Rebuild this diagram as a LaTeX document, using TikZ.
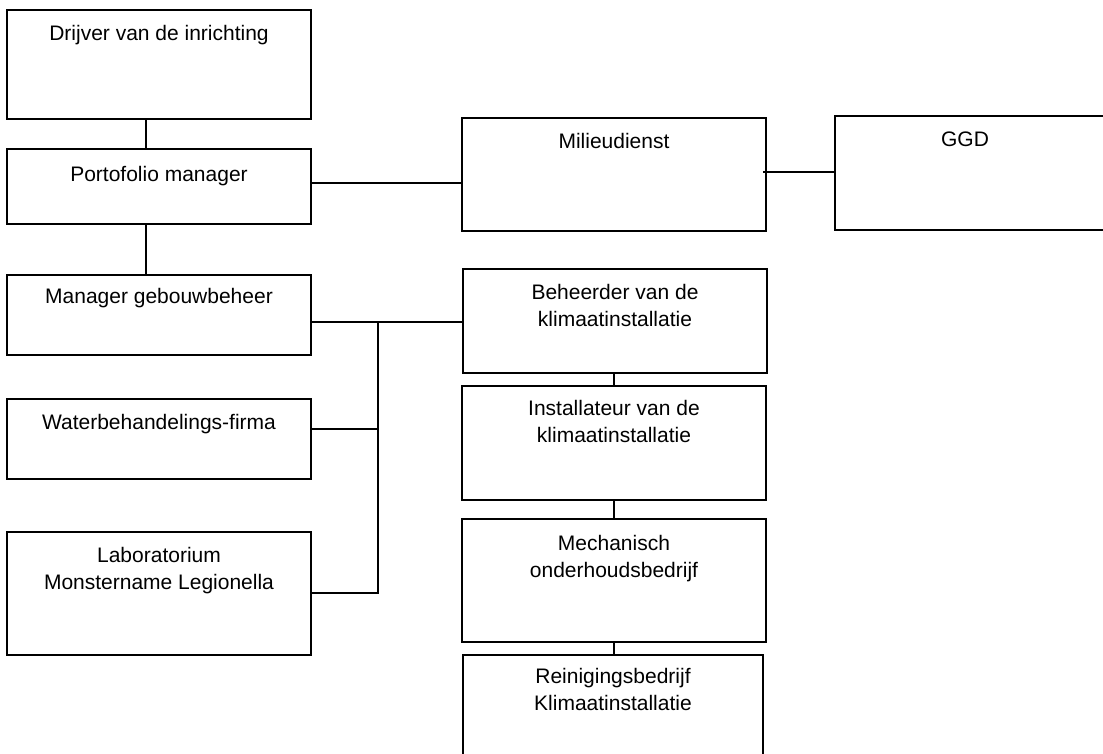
\documentclass[tikz,border=0pt]{standalone}
\usepackage{fontspec}
\setmainfont{Liberation Sans}
\begin{document}
\begin{tikzpicture}[x=1pt,y=-1pt,
  box/.style={draw=black,line width=1.6pt,rectangle,inner sep=0pt,outer sep=0pt,anchor=north west},
  txt/.style={anchor=north,inner sep=0pt,outer sep=0pt,align=center,font=\fontsize{21}{27.5}\selectfont},
  conn/.style={draw=black,line width=1.6pt}]
\useasboundingbox (0,0) rectangle (1103,753);
% boxes
\node[box,minimum width=304pt,minimum height=109pt] (drijver) at (7,10) {};
\node[box,minimum width=304pt,minimum height=75pt] (port) at (7,149) {};
\node[box,minimum width=304pt,minimum height=80pt] (mgr) at (7,275) {};
\node[box,minimum width=304pt,minimum height=80pt] (water) at (7,399) {};
\node[box,minimum width=304pt,minimum height=123pt] (lab) at (7,532) {};
\node[box,minimum width=304pt,minimum height=113pt] (milieu) at (462,118) {};
\node[box,minimum width=275pt,minimum height=114pt] (ggd) at (835,116) {};
\node[box,minimum width=304pt,minimum height=104pt] (beh) at (463,269) {};
\node[box,minimum width=304pt,minimum height=114pt] (inst) at (462,386) {};
\node[box,minimum width=304pt,minimum height=123pt] (mech) at (462,519) {};
\node[box,minimum width=300pt,minimum height=120pt] (rein) at (463,655) {};
% texts
\node[txt] (drijver-t) at (159,25) {Drijver van de inrichting};
\node[txt] (port-t) at (159,166) {Portofolio manager};
\node[txt] (mgr-t) at (159,288) {Manager gebouwbeheer};
\node[txt] (water-t) at (159,414) {Waterbehandelings-firma};
\node[txt] (lab-t) at (159,547) {Laboratorium\\Monstername Legionella};
\node[txt] (milieu-t) at (614,133) {Milieudienst};
\node[txt] (ggd-t) at (965,132) {GGD};
\node[txt] (beh-t) at (615,284) {Beheerder van de\\klimaatinstallatie};
\node[txt] (inst-t) at (614,400) {Installateur van de\\klimaatinstallatie};
\node[txt] (mech-t) at (614,535) {Mechanisch\\onderhoudsbedrijf};
\node[txt] (rein-t) at (613,668) {Reinigingsbedrijf\\Klimaatinstallatie};
% helper coordinates
\coordinate (cx) at (146,0);
\coordinate (rx) at (614,0);
\coordinate (jx) at (378,0);
\coordinate (y183) at (0,183);
\coordinate (y172) at (763,172);
\coordinate (y322) at (0,322);
\coordinate (y429) at (0,429);
\coordinate (y593) at (0,593);
% connectors
\draw[conn] (drijver.south -| cx) -- (port.north -| cx);
\draw[conn] (port.south -| cx) -- (mgr.north -| cx);
\draw[conn] (port.east |- y183) -- (milieu.west |- y183);
\draw[conn] (y172) -- (ggd.west |- y172);
\draw[conn] (mgr.east |- y322) -- (beh.west |- y322);
\draw[conn] (water.east |- y429) -- (jx |- y429);
\draw[conn] (lab.east |- y593) -- (jx |- y593) -- (jx |- y322);
\draw[conn] (beh.south -| rx) -- (inst.north -| rx);
\draw[conn] (inst.south -| rx) -- (mech.north -| rx);
\draw[conn] (mech.south -| rx) -- (rein.north -| rx);
\end{tikzpicture}
\end{document}
